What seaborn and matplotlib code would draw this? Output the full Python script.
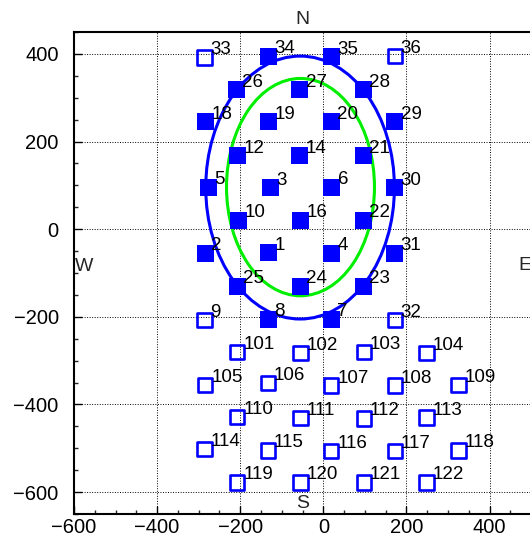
import matplotlib
matplotlib.use("Agg")
import matplotlib.pyplot as plt
from matplotlib.patches import Ellipse
from matplotlib.ticker import MultipleLocator
import seaborn as sns
import pandas as pd

sns.set_theme(style="white")
plt.rcParams['font.family'] = ['Liberation Sans', 'DejaVu Sans']

# filled (active) stations
filled_ids = [1, 2, 3, 4, 5, 6, 7, 8, 10, 12, 14, 16, 18, 19, 20, 21, 22, 23,
              24, 25, 26, 27, 28, 29, 30, 31, 34, 35]
filled_x = [-132, -284, -128, 19, -277, 20, 19, -132, -205, -207, -57, -55,
            -284, -132, 19, 96, 96, 96, -55, -207, -209, -57, 96, 172, 172, 172,
            -132, 19]
filled_y = [-54, -55, 94, -55, 96, 96, -205, -205, 20, 168, 168, 20, 245, 245,
            245, 168, 20, -130, -130, -130, 318, 318, 318, 245, 94, -55, 395, 394]

# open stations
open_ids = [9, 32, 33, 36, 101, 102, 103, 104, 105, 106, 107, 108, 109, 110,
            111, 112, 113, 114, 115, 116, 117, 118, 119, 120, 121, 122]
open_x = [-286, 172, -286, 172, -207, -55, 97, 248, -284, -133, 19, 172, 325,
          -207, -55, 97, 248, -286, -133, 19, 172, 325, -207, -55, 97, 248]
open_y = [-207, -207, 392, 395, -281, -283, -281, -283, -355, -351, -357, -357,
          -355, -429, -431, -432, -430, -502, -505, -506, -506, -505, -578, -578,
          -578, -578]

# ellipses: center x, center y, semi-axis x, semi-axis y
ell_blue = [-56, 95, 227, 300]
ell_green = [-55, 96, 178, 248]

# compass labels
compass_text = ["N", "S", "W", "E"]
compass_x = [-50, -50, -575, 485]
compass_y = [478, -626, -86, -82]

df_f = pd.DataFrame({"x": filled_x, "y": filled_y, "id": filled_ids})
df_o = pd.DataFrame({"x": open_x, "y": open_y, "id": open_ids})

fig = plt.figure(figsize=(5.30, 5.36), dpi=100)
ax = fig.add_axes([74 / 530, 22 / 536, 1 - 74 / 530 + 0.01, (514 - 32) / 536])

ax.set_xlim(-600, 510)
ax.set_ylim(-650, 450)

ax.grid(True, which="major", color="black", linestyle=(0, (1, 1.6)), linewidth=0.7)
ax.set_axisbelow(True)

for (cx, cy, a, b), col in [(ell_blue, "#0000ff"), (ell_green, "#00ee00")]:
    ax.add_patch(Ellipse((cx, cy), 2 * a, 2 * b, fill=False, edgecolor=col,
                         linewidth=2.2, zorder=2))

sns.scatterplot(data=df_f, x="x", y="y", marker="s", s=150, color="#0000ff",
                edgecolor="none", linewidth=0, ax=ax, zorder=3, legend=False)
sns.scatterplot(data=df_o, x="x", y="y", marker="s", s=105, facecolors="none",
                edgecolor="#0000ff", linewidth=1.9, ax=ax, zorder=3, legend=False)

for df in (df_f, df_o):
    for xv, yv, i in zip(df["x"], df["y"], df["id"]):
        ax.annotate(str(i), (xv, yv), xytext=(6, 3), textcoords="offset pixels",
                    ha="left", va="baseline", fontsize=13.5, color="black", zorder=4)

for t, xv, yv in zip(compass_text, compass_x, compass_y):
    ax.text(xv, yv, t, ha="center", va="center", fontsize=14, clip_on=False)

ax.set_xlabel("")
ax.set_ylabel("")
ax.xaxis.set_major_locator(MultipleLocator(200))
ax.xaxis.set_minor_locator(MultipleLocator(50))
ax.yaxis.set_major_locator(MultipleLocator(200))
ax.yaxis.set_minor_locator(MultipleLocator(50))
ax.tick_params(axis="both", which="major", direction="in", length=6, width=1,
               labelsize=14.5, colors="black", bottom=True, left=True)
ax.tick_params(axis="both", which="minor", direction="in", length=3, width=1,
               bottom=True, left=True)
ax.tick_params(axis="x", pad=3)
ax.tick_params(axis="y", pad=11)
for side in ["left", "bottom", "top"]:
    ax.spines[side].set_color("black")
    ax.spines[side].set_linewidth(1.5)
    ax.spines[side].set_visible(True)
ax.spines["right"].set_visible(False)

fig.savefig("out.png", dpi=100)
